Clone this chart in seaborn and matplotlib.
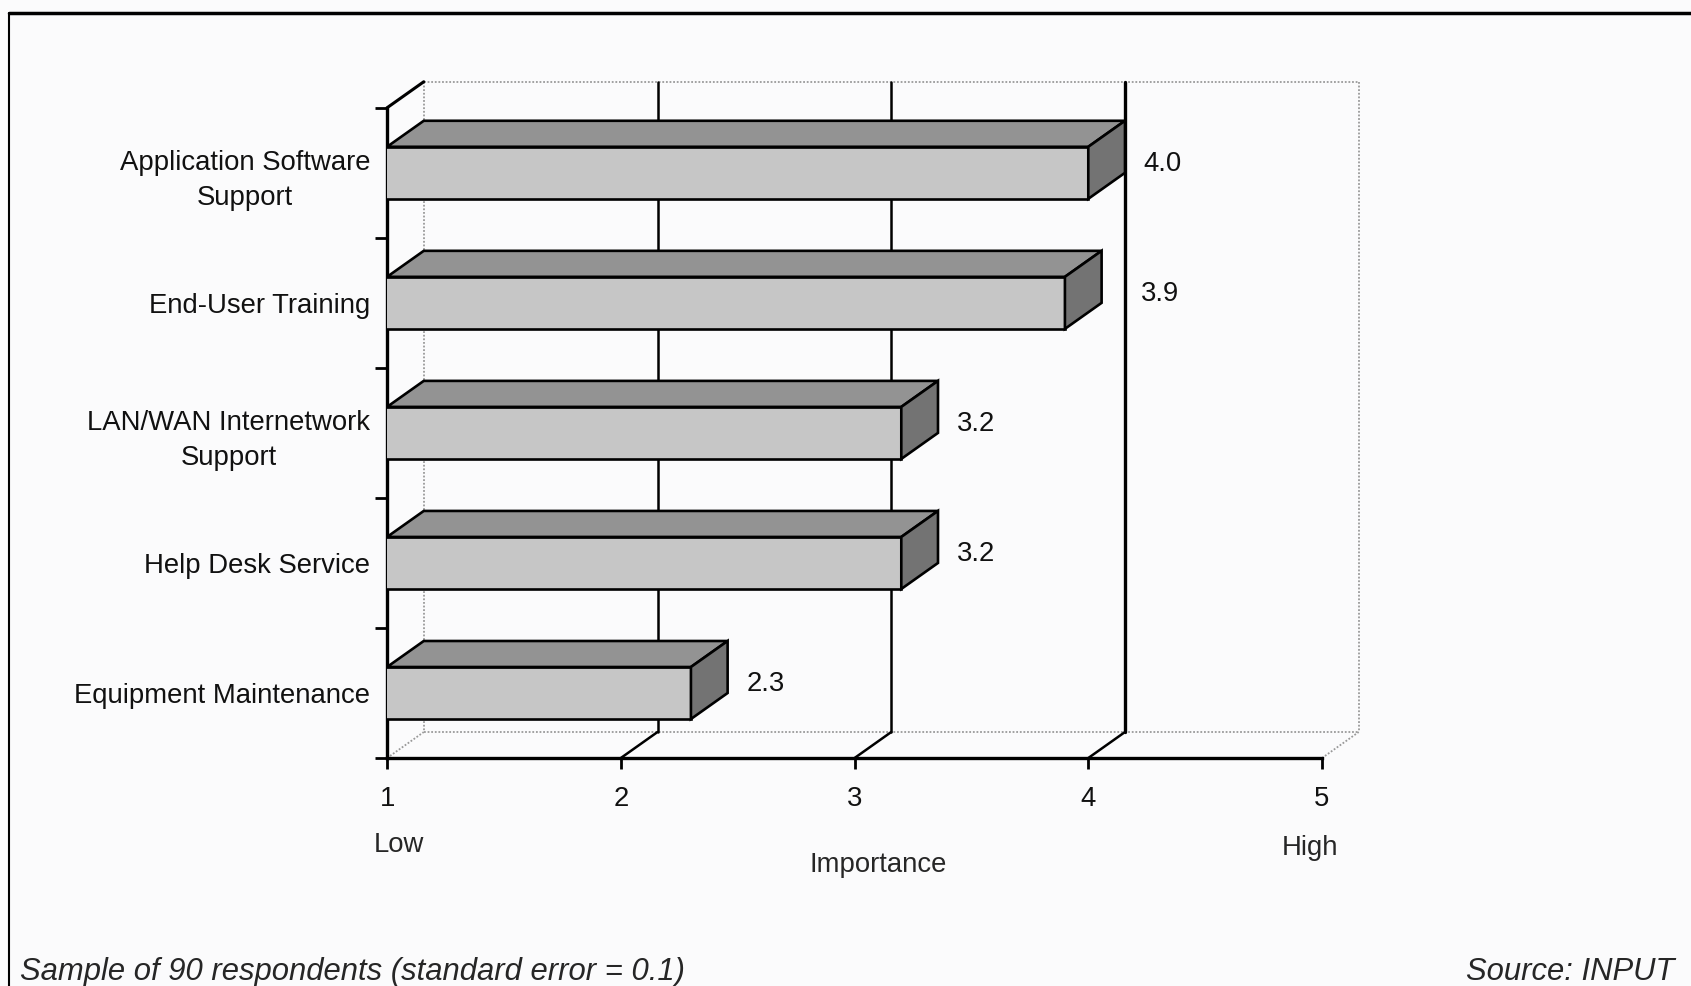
import numpy as np
import pandas as pd
import matplotlib.pyplot as plt
import seaborn as sns
from matplotlib.patches import Polygon
from matplotlib.lines import Line2D

# data
categories = ["Application Software\nSupport", "End-User Training",
              "LAN/WAN Internetwork\nSupport", "Help Desk Service",
              "Equipment Maintenance"]
importance = [4.0, 3.9, 3.2, 3.2, 2.3]
x_ticks = [1, 2, 3, 4, 5]

sns.set_theme(style="white")
plt.rcParams['font.family'] = ['Liberation Sans', 'DejaVu Sans']

BG = '#fbfbfc'
FRONT = '#c6c6c6'
TOP = '#939393'
SIDE = '#737373'
DX, DY = 0.157, 0.2      # fake depth, in data units
BAR_H = 0.4
FS = 19.8
EDGE = 1.9

fig = plt.figure(figsize=(16.91, 9.86), dpi=100, facecolor=BG)
ax = fig.add_axes([0.2289, 0.2312, 0.5529, 0.6595])
ax.set_facecolor('none')

df = pd.DataFrame({'cat': categories, 'val': importance})
sns.barplot(data=df, x='val', y='cat', orient='h', width=BAR_H, color=FRONT,
            edgecolor='black', linewidth=EDGE, saturation=1, ax=ax, zorder=3)

ax.set_xlim(1, 5)
ax.set_ylim(4.5, -0.5)

# top and side faces of the bars
for i, v in enumerate(importance):
    y0 = i - BAR_H / 2
    y1 = i + BAR_H / 2
    top = Polygon([(1, y0), (v, y0), (v + DX, y0 - DY), (1 + DX, y0 - DY)],
                  closed=True, facecolor=TOP, edgecolor='black', lw=EDGE, zorder=4)
    side = Polygon([(v, y0), (v + DX, y0 - DY), (v + DX, y1 - DY), (v, y1)],
                   closed=True, facecolor=SIDE, edgecolor='black', lw=EDGE, zorder=4)
    ax.add_patch(top)
    ax.add_patch(side)

# back wall and floor
y_top, y_floor = -0.5 - DY, 4.5 - DY
dotted = dict(color='#9a9a9a', lw=1.3, ls=(0, (1, 1)), clip_on=False, zorder=1)
ax.plot([1 + DX, 5 + DX], [y_top, y_top], **dotted)
ax.plot([1 + DX, 1 + DX], [y_top, y_floor], **dotted)
ax.plot([5 + DX, 5 + DX], [y_top, y_floor], **dotted)
ax.plot([1 + DX, 5 + DX], [y_floor, y_floor], **dotted)
ax.plot([1, 1 + DX], [4.5, y_floor], **dotted)
ax.plot([5, 5 + DX], [4.5, y_floor], **dotted)
ax.plot([1, 1 + DX], [-0.5, y_top], color='black', lw=2.2, clip_on=False, zorder=2)

for g in x_ticks[1:-1]:
    lw = 2.4 if g == 4 else 1.8
    ax.plot([g + DX, g + DX], [y_top, y_floor], color='black', lw=lw,
            clip_on=False, zorder=1)
    ax.plot([g, g + DX], [4.5, y_floor], color='black', lw=1.8,
            clip_on=False, zorder=1)

# value labels, nudged past a back gridline if they would sit on it
for i, v in enumerate(importance):
    lx = v + DX + 0.08
    for g in x_ticks[1:-1]:
        if g + DX - 0.25 < lx < g + DX + 0.07:
            lx = g + DX + 0.07
    ax.text(lx, i - 0.07, f"{v:.1f}", fontsize=FS, va='center', ha='left',
            color='#111111')

# axes styling
for s in ['top', 'right']:
    ax.spines[s].set_visible(False)
for s in ['left', 'bottom']:
    ax.spines[s].set_color('black')
    ax.spines[s].set_linewidth(2.4)

ax.set_xticks(x_ticks)
ax.set_xticklabels([str(t) for t in x_ticks], fontsize=FS, color='#111111')
ax.tick_params(axis='x', direction='out', length=8, width=2, color='black',
               pad=12, bottom=True)
ax.set_yticks(range(len(categories)))
ax.set_yticklabels(categories, fontsize=FS, color='#111111')
ax.set_yticks(np.arange(-0.5, len(categories), 1), minor=True)
ax.tick_params(axis='y', which='major', length=0, pad=12)
ax.tick_params(axis='y', which='minor', direction='out', length=9, width=2,
               color='black', left=True)
for lab in ax.get_yticklabels():
    lab.set_multialignment('center')
    lab.set_linespacing(1.45)
ax.set_xlabel('')
ax.set_ylabel('')

xf = ax.get_xaxis_transform()
ax.text(1.05, -0.133, 'Low', transform=xf, fontsize=FS, ha='center', va='center')
ax.text(4.95, -0.139, 'High', transform=xf, fontsize=FS, ha='center', va='center')
ax.text(3.10, -0.165, 'Importance', transform=xf, fontsize=FS, ha='center',
        va='center')

# notes
FN = 22.3
fig.text(20 / 1691, 1 - 972 / 986, 'Sample of 90 respondents (standard error = 0.1)',
         fontsize=FN, style='italic', ha='left', va='center')
fig.text(1674 / 1691, 1 - 972 / 986, 'Source: INPUT', fontsize=FN,
         style='italic', ha='right', va='center')

# frame
fig.add_artist(Line2D([9 / 1691, 1], [1 - 13 / 986] * 2, color='black', lw=2.5,
                      transform=fig.transFigure))
fig.add_artist(Line2D([9 / 1691] * 2, [0, 1 - 13 / 986], color='black', lw=1.5,
                      transform=fig.transFigure))

fig.savefig('out.png', dpi=100, facecolor=BG)
